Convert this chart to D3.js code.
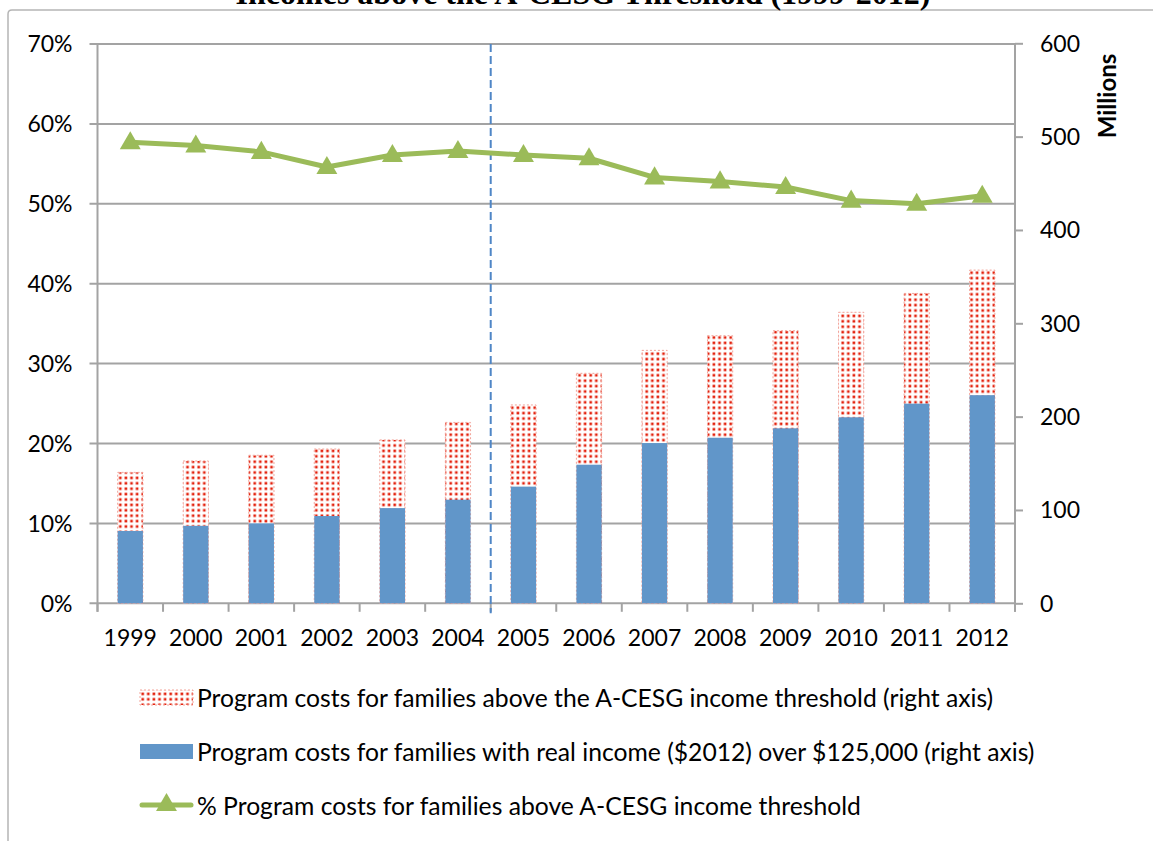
<!DOCTYPE html>
<html>
<head>
<meta charset="utf-8">
<script src="https://cdn.jsdelivr.net/npm/d3@7/dist/d3.min.js"></script>
<style>
  html, body { margin: 0; padding: 0; background: #ffffff; }
  svg { display: block; }
  text { font-family: Lato, "Open Sans", sans-serif; fill: #000; }
</style>
</head>
<body>
<svg id="chart" width="1153" height="841"></svg>
<script>
// ---- data ----
const years = ["1999","2000","2001","2002","2003","2004","2005","2006","2007","2008","2009","2010","2011","2012"];
const costsAboveThreshold = [140.3, 152.5, 158.6, 165.3, 175, 193.8, 212.5, 246.4, 271, 286.7, 292, 311.8, 332, 357];
const costsOver125k = [77.5, 83, 85.7, 93.5, 102, 111, 125, 148.5, 171.7, 177.4, 187.5, 199.3, 213.9, 223];
const pctAboveThreshold = [57.7, 57.3, 56.5, 54.6, 56.1, 56.6, 56.1, 55.7, 53.3, 52.8, 52.1, 50.4, 50.0, 51.0];
const pctTicks = [0, 10, 20, 30, 40, 50, 60, 70];
const millionTicks = [0, 100, 200, 300, 400, 500, 600];
const dividerAfterYear = "2004";
const titleText = "Incomes above the A-CESG Threshold (1999-2012)";
const legendLabels = [
  "Program costs for families above the A-CESG income threshold (right axis)",
  "Program costs for families with real income ($2012) over $125,000 (right axis)",
  "% Program costs for families above A-CESG income threshold"
];

// ---- layout ----
const svg = d3.select("#chart");
const L = 97.5, R = 1015, T = 44, B = 603.3;
const gridColor = "#a3a3a3";
const blue = "#6196c9", red = "#e3200c", green = "#9bbb59";
const axisFont = "23px";

const x = d3.scaleBand().domain(years).range([L, R]).paddingInner(0).paddingOuter(0);
const yP = d3.scaleLinear().domain([0, 70]).range([B, T]);
const yM = d3.scaleLinear().domain([0, 600]).range([B, T - 0.7]);

// pattern
const defs = svg.append("defs");
const pat = defs.append("pattern").attr("id", "dots")
  .attr("patternUnits", "userSpaceOnUse").attr("width", 5.6).attr("height", 5.4);
pat.append("rect").attr("width", 5.6).attr("height", 5.4).attr("fill", "#fff");
pat.append("rect").attr("x", 1.4).attr("y", 1.4).attr("width", 2.6).attr("height", 2.6).attr("fill", red);

// chart frame
svg.append("path").attr("d", "M8,845 L8,14 Q8,10 12,10 L1160,10")
  .attr("fill", "none").attr("stroke", "#b5b5b5").attr("stroke-width", 1.5);

// title (clipped at top, as in the source image)
svg.append("text").attr("x", 583).attr("y", 4).attr("text-anchor", "middle")
  .style("font-family", "'Liberation Serif', 'DejaVu Serif', serif")
  .style("font-weight", "bold").style("font-size", "32px").text(titleText);

// gridlines
svg.append("g").selectAll("line").data(pctTicks).join("line")
  .attr("x1", L - 8).attr("x2", R).attr("y1", d => yP(d)).attr("y2", d => yP(d))
  .attr("stroke", gridColor).attr("stroke-width", 2);

// left axis
const leftAxis = svg.append("g").attr("transform", `translate(${L},0)`)
  .call(d3.axisLeft(yP).tickValues(pctTicks).tickFormat(d => d + "%").tickSize(0).tickPadding(25));
leftAxis.select(".domain").remove();
leftAxis.selectAll("text").style("font-size", axisFont).style("font-family", "Lato, sans-serif").attr("dy", "0.34em");
svg.append("line").attr("x1", L).attr("x2", L).attr("y1", T).attr("y2", B + 8.5)
  .attr("stroke", gridColor).attr("stroke-width", 2);

// right axis
const rightAxis = svg.append("g").attr("transform", `translate(${R},0)`)
  .call(d3.axisRight(yM).tickValues(millionTicks).tickSize(8).tickPadding(17));
rightAxis.select(".domain").remove();
rightAxis.selectAll("line").attr("stroke", gridColor).attr("stroke-width", 2);
rightAxis.selectAll("text").style("font-size", axisFont).style("font-family", "Lato, sans-serif").attr("dy", "0.34em");
svg.append("line").attr("x1", R).attr("x2", R).attr("y1", T).attr("y2", B + 8.5)
  .attr("stroke", gridColor).attr("stroke-width", 2);

// bottom axis
const bottomAxis = svg.append("g").attr("transform", `translate(0,${B})`)
  .call(d3.axisBottom(x).tickSize(0).tickPadding(26));
bottomAxis.select(".domain").remove();
bottomAxis.selectAll("text").style("font-size", axisFont).style("font-family", "Lato, sans-serif");
const edges = years.map(y => x(y)).concat([R]);
svg.append("g").selectAll("line").data(edges).join("line")
  .attr("x1", d => d).attr("x2", d => d).attr("y1", B).attr("y2", B + 8.5)
  .attr("stroke", gridColor).attr("stroke-width", 2);

// bars
const bw = x.bandwidth() * 0.385;
const bx = d => x(d) + (x.bandwidth() - bw) / 2;
svg.append("g").selectAll("rect").data(years).join("rect")
  .attr("x", d => bx(d)).attr("width", bw)
  .attr("y", (d, i) => yM(costsAboveThreshold[i]))
  .attr("height", (d, i) => B - yM(costsAboveThreshold[i]))
  .attr("fill", "url(#dots)").attr("stroke", "#f2a49a").attr("stroke-width", 1).attr("stroke-dasharray", "2,2");
svg.append("g").selectAll("rect").data(years).join("rect")
  .attr("x", d => bx(d)).attr("width", bw)
  .attr("y", (d, i) => yM(costsOver125k[i]))
  .attr("height", (d, i) => B - yM(costsOver125k[i]))
  .attr("fill", blue);

// divider
const dx = x(years[years.indexOf(dividerAfterYear) + 1]);
svg.append("line").attr("x1", dx).attr("x2", dx).attr("y1", T).attr("y2", B + 10)
  .attr("stroke", "#4f86c6").attr("stroke-width", 2).attr("stroke-dasharray", "8,4");

// line
const cx = d => x(d) + x.bandwidth() / 2;
const line = d3.line().x((d, i) => cx(years[i])).y(d => yP(d));
svg.append("path").datum(pctAboveThreshold).attr("d", line)
  .attr("fill", "none").attr("stroke", green).attr("stroke-width", 5).attr("stroke-linejoin", "round");
const tri = d3.symbol().type(d3.symbolTriangle).size(190);
svg.append("g").selectAll("path").data(pctAboveThreshold).join("path")
  .attr("transform", (d, i) => `translate(${cx(years[i])},${yP(d) + 1})`)
  .attr("d", tri).attr("fill", green);

// legend
const lg = svg.append("g");
const lx = 140, lw = 53, ltx = 197;
const ly = [698, 752, 806];
lg.append("rect").attr("x", lx).attr("y", ly[0] - 8).attr("width", lw).attr("height", 15)
  .attr("fill", "url(#dots)").attr("stroke", "#f2a49a").attr("stroke-width", 1).attr("stroke-dasharray", "2,2");
lg.append("rect").attr("x", lx).attr("y", ly[1] - 8).attr("width", lw).attr("height", 15).attr("fill", blue);
lg.append("line").attr("x1", lx + 2).attr("x2", lx + lw - 2).attr("y1", ly[2] - 1).attr("y2", ly[2] - 1)
  .attr("stroke", green).attr("stroke-width", 5).attr("stroke-linecap", "round");
lg.append("path").attr("transform", `translate(${lx + lw / 2},${ly[2] - 1})`).attr("d", tri).attr("fill", green);
lg.selectAll("text").data(legendLabels).join("text")
  .attr("x", ltx).attr("y", (d, i) => ly[i]).attr("dy", "0.36em")
  .style("font-size", "24.7px").text(d => d);

// Millions label
svg.append("text").attr("transform", "translate(1116,96) rotate(-90)")
  .attr("text-anchor", "middle").style("font-weight", "bold").style("font-size", "24px")
  .style("font-family", "Lato, sans-serif").text("Millions");
</script>
</body>
</html>
